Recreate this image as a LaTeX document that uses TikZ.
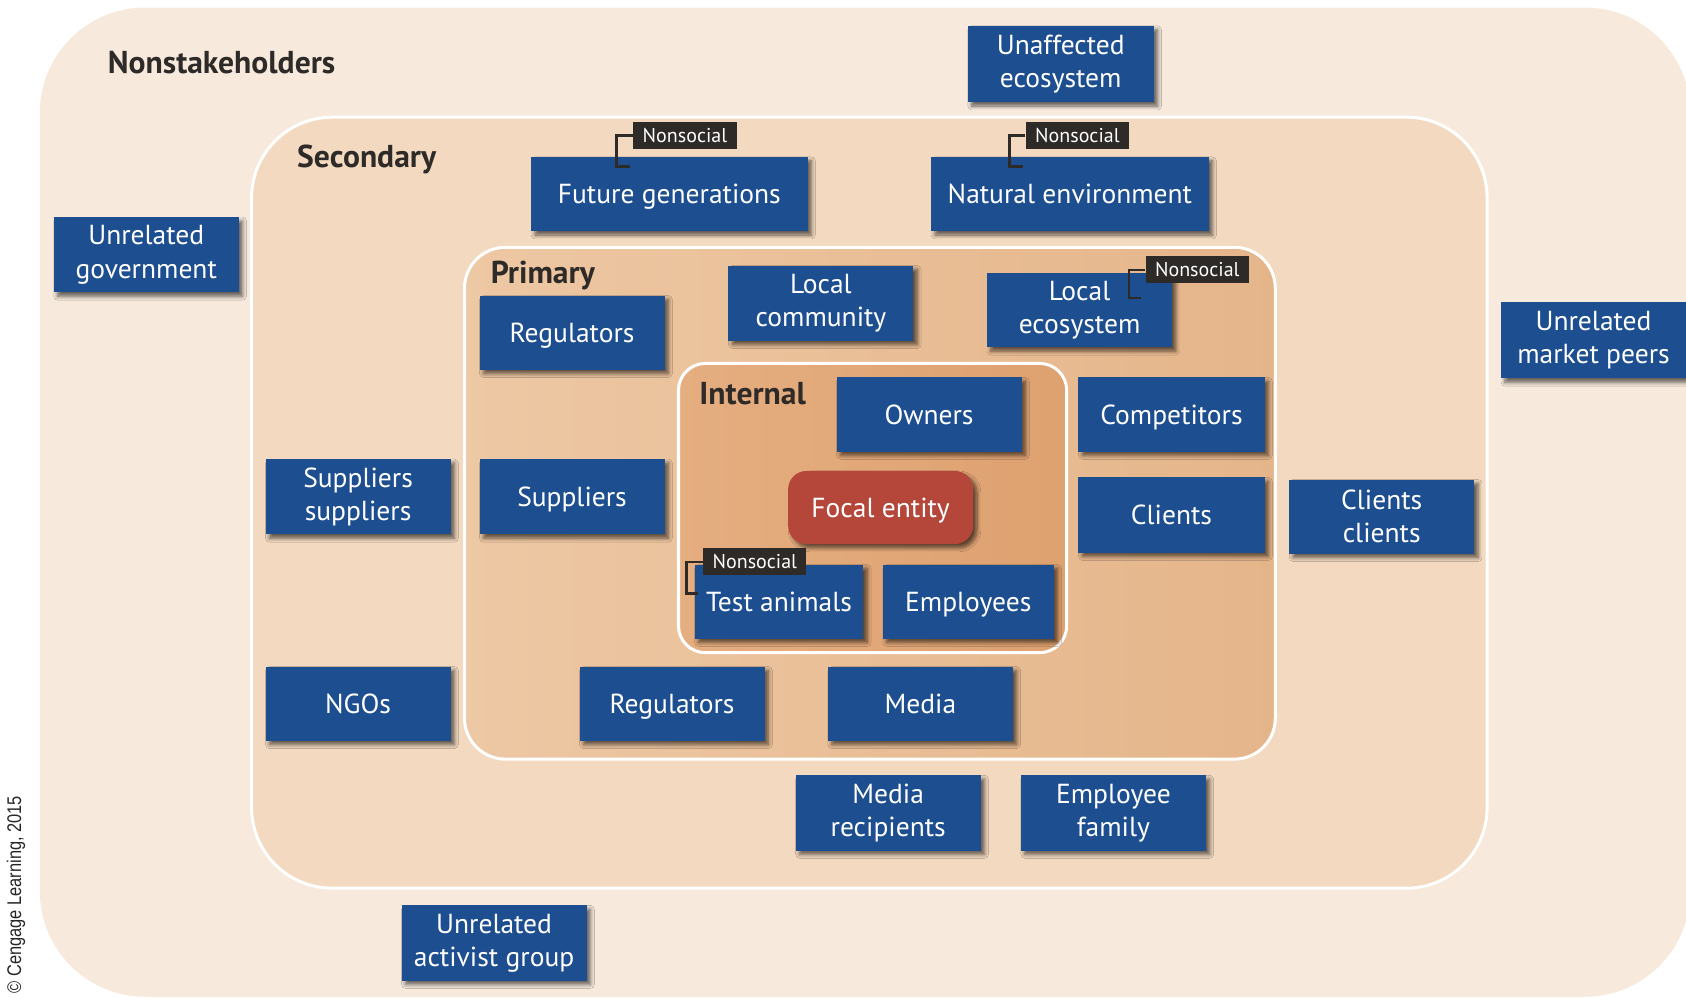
\documentclass[tikz,border=0pt]{standalone}
\usepackage{fontspec}
\setmainfont{PT Sans}
\newfontfamily\creditfont[FakeStretch=0.83]{Liberation Sans}
\usetikzlibrary{shadows.blur}

\definecolor{outerfill}{HTML}{F7EADD}
\definecolor{secfill}{HTML}{F2D9BF}
\definecolor{primL}{HTML}{EDC8A4}
\definecolor{primR}{HTML}{E5B58A}
\definecolor{intL}{HTML}{E5AE80}
\definecolor{intR}{HTML}{DEA170}
\definecolor{boxblue}{HTML}{1D4E8F}
\definecolor{focalred}{HTML}{B4463A}
\definecolor{tagfill}{HTML}{2D2A28}
\definecolor{titlecol}{HTML}{2E2A28}

\tikzset{
  zone/.style={draw=white, line width=1.4pt},
  boxshadow/.style={blur shadow={shadow xshift=1.8pt, shadow yshift=-1.8pt,
      shadow blur steps=6, shadow blur radius=1.8pt, shadow opacity=60}},
  sbox/.style={boxshadow, fill=boxblue, text=white,
      font=\fontsize{12.8}{15.5}\selectfont, align=center,
      minimum width=86pt, minimum height=35pt, inner sep=0pt},
  oneline/.style={text height=9pt, text depth=0pt},
  focalbox/.style={sbox, oneline, fill=focalred, rounded corners=8.5pt},
  zonetitle/.style={anchor=west, inner sep=0pt, text=titlecol,
      font=\bfseries\fontsize{14.7}{16}\selectfont},
  tag/.style={fill=tagfill, text=white, font=\fontsize{9.3}{11}\selectfont,
      minimum width=48pt, minimum height=12.5pt, inner sep=0pt},
  bracket/.style={draw=tagfill, line width=1.2pt}
}

\begin{document}
\begin{tikzpicture}[x=0.5pt, y=-0.5pt]
\useasboundingbox (0,0) rectangle (1568,929);

% nested stakeholder zones
\path[fill=outerfill, rounded corners=49pt] (37,7) rectangle (1572,927);
\path[zone, fill=secfill, rounded corners=37.5pt] (234,109) rectangle (1383,826);
\shadedraw[zone, left color=primL, right color=primR, rounded corners=19pt] (432,230) rectangle (1186,706);
\shadedraw[zone, left color=intL, right color=intR, rounded corners=12.5pt] (631,338) rectangle (992,607);

% zone titles
\node[zonetitle] (tNon) at (100,58) {Nonstakeholders};
\node[zonetitle] (tSec) at (276,148) {Secondary};
\node[zonetitle] (tPri) at (456,256) {Primary};
\node[zonetitle] (tInt) at (650,366) {Internal};

% nonstakeholders
\node[sbox, minimum width=86.5pt, minimum height=35.5pt] (ue) at (986.5,59.5) {Unaffected\\ecosystem};
\node[sbox] (ug) at (136,237) {Unrelated\\government};
\node[sbox, minimum height=35.5pt] (ump) at (1482,316.5) {Unrelated\\market peers};
\node[sbox] (uag) at (459.5,877) {Unrelated\\activist group};

% secondary
\node[sbox, oneline, minimum width=128.5pt, minimum height=34.5pt] (fg) at (622.5,180.5) {Future generations};
\node[sbox, oneline, minimum width=129pt, minimum height=34.5pt] (ne) at (995,180.5) {Natural environment};
\node[sbox] (ss) at (333,462) {Suppliers\\suppliers};
\node[sbox, minimum height=34.5pt] (cc) at (1285,480.5) {Clients\\clients};
\node[sbox, oneline, minimum height=34.5pt] (ngo) at (333,654.5) {NGOs};
\node[sbox] (mr) at (826,756) {Media\\recipients};
\node[sbox] (ef) at (1035.5,756) {Employee\\family};

% primary
\node[sbox, oneline, minimum height=34.5pt] (reg1) at (532,309.5) {Regulators};
\node[sbox] (lc) at (763.5,282) {Local\\community};
\node[sbox, minimum height=34.5pt] (le) at (1004,288.5) {Local\\ecosystem};
\node[sbox, oneline, minimum width=86.5pt, minimum height=34.5pt] (comp) at (1089.5,385.5) {Competitors};
\node[sbox, oneline] (sup) at (532,462) {Suppliers};
\node[sbox, oneline, minimum width=86.5pt] (cli) at (1089.5,479) {Clients};
\node[sbox, oneline, minimum height=34.5pt] (reg2) at (625,654.5) {Regulators};
\node[sbox, oneline, minimum height=34.5pt] (media) at (856,654.5) {Media};

% internal
\node[sbox, oneline, minimum height=34.5pt] (own) at (864,385.5) {Owners};
\node[focalbox, minimum height=34pt] (focal) at (819,472) {Focal entity};
\node[sbox, oneline, minimum width=78.5pt, minimum height=34.5pt] (ta) at (724.5,559.5) {Test animals};
\node[sbox, oneline, minimum width=79.5pt, minimum height=34.5pt] (emp) at (900.5,559.5) {Employees};

% nonsocial markers
\node[tag] (nsFG) at (637,126) {Nonsocial};
\node[tag] (nsNE) at (1002,126) {Nonsocial};
\node[tag] (nsLE) at (1113.5,251) {Nonsocial};
\node[tag] (nsTA) at (702,522.5) {Nonsocial};
\draw[bracket] (nsFG.west) -- ++(-15,0) -- ++(0,29) -- ++(12,0);
\draw[bracket] (nsNE.west) -- ++(-15,0) -- ++(0,29) -- ++(13,0);
\draw[bracket] (nsLE.west) -- ++(-15,0) -- ++(0,26) -- ++(11,0);
\draw[bracket] (nsTA.west) -- ++(-15,0) -- ++(0,29.5) -- ++(11,0);

% credit line
\node[rotate=90, inner sep=0pt, text=black!85, font=\creditfont\fontsize{9.2}{11}\selectfont] (credit) at (15,832) {\textcopyright{} Cengage Learning, 2015};
\end{tikzpicture}
\end{document}
